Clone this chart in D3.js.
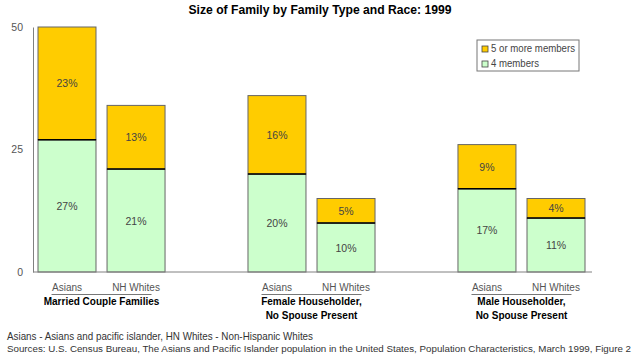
<!DOCTYPE html>
<html><head><meta charset="utf-8">
<script src="https://cdn.jsdelivr.net/npm/d3@7"></script>
<style>body{margin:0;background:#fff}svg{font-family:Arial,"Liberation Sans",sans-serif}</style>
</head><body><svg id="c" width="640" height="356"></svg>
<script>
const groups = ["Married Couple Families", "Female Householder,\nNo Spouse Present", "Male Householder,\nNo Spouse Present"];
const races = ["Asians", "NH Whites"];
const fourMembers = [[27, 21], [20, 10], [17, 11]];
const fiveOrMore = [[23, 13], [16, 5], [9, 4]];
const seriesNames = ["5 or more members", "4 members"];
const yTicks = [0, 25, 50];

const svg = d3.select("#c");
const y = d3.scaleLinear().domain([0, 50]).range([272, 27]);
const x0 = d3.scaleBand().domain(groups).range([38, 585]).paddingInner(0.395).paddingOuter(0);
const x1 = d3.scaleBand().domain(races).range([0, x0.bandwidth()]).paddingInner(0.16).paddingOuter(0);
const colors = {four: "#CCFFCC", five: "#FFCC00"};

svg.append("text").attr("x", 320).attr("y", 14).attr("text-anchor", "middle")
  .attr("font-weight", "bold").attr("font-size", 12)
  .attr("textLength", 263).attr("lengthAdjust", "spacingAndGlyphs")
  .text("Size of Family by Family Type and Race: 1999");

// bars
groups.forEach((g, gi) => {
  races.forEach((r, ri) => {
    const bx = x0(g) + x1(r), w = x1.bandwidth();
    const a = fourMembers[gi][ri], b = fiveOrMore[gi][ri];
    svg.append("rect").attr("x", bx).attr("y", y(a)).attr("width", w).attr("height", y(0) - y(a))
      .attr("fill", colors.four).attr("stroke", "#666").attr("stroke-width", 1);
    svg.append("rect").attr("x", bx).attr("y", y(a + b)).attr("width", w).attr("height", y(0) - y(b))
      .attr("fill", colors.five).attr("stroke", "#666").attr("stroke-width", 1);
    svg.append("line").attr("x1", bx).attr("x2", bx + w).attr("y1", y(a)).attr("y2", y(a))
      .attr("stroke", "#000").attr("stroke-width", 1.5);
    svg.append("text").attr("x", bx + w / 2).attr("y", (y(0) + y(a)) / 2 + 4).attr("text-anchor", "middle")
      .attr("font-size", 10.5).attr("fill", "#444").text(a + "%");
    svg.append("text").attr("x", bx + w / 2).attr("y", (y(a) + y(a + b)) / 2 + 4).attr("text-anchor", "middle")
      .attr("font-size", 10.5).attr("fill", "#444").text(b + "%");
    svg.append("text").attr("x", bx + w / 2).attr("y", 291).attr("text-anchor", "middle")
      .attr("font-size", 10).attr("fill", "#555").text(r);
  });
  const cx = x0(g) + x0.bandwidth() / 2;
  svg.append("line").attr("x1", cx - 50).attr("x2", cx + 50).attr("y1", 294.5).attr("y2", 294.5)
    .attr("stroke", "#777").attr("stroke-width", 1);
  g.split("\n").forEach((ln, li) => {
    svg.append("text").attr("x", cx).attr("y", 305 + li * 14).attr("text-anchor", "middle")
      .attr("font-size", 10).attr("font-weight", "bold").attr("fill", "#000").text(ln);
  });
});

// axes
const yAxis = d3.axisLeft(y).tickValues(yTicks).tickSize(0).tickPadding(10);
const ya = svg.append("g").attr("transform", "translate(33,0)").call(yAxis);
ya.select(".domain").attr("stroke", "#808080");
ya.selectAll("text").attr("font-size", 10.5).attr("fill", "#555").attr("font-family", "Arial, 'Liberation Sans', sans-serif");
svg.append("line").attr("x1", 33).attr("x2", 592).attr("y1", y(0)).attr("y2", y(0)).attr("stroke", "#808080");

// legend
const lg = svg.append("g").attr("transform", "translate(477,40)");
lg.append("rect").attr("width", 102).attr("height", 31).attr("fill", "#fff").attr("stroke", "#777");
seriesNames.forEach((s, i) => {
  lg.append("rect").attr("x", 5).attr("y", 6 + i * 15).attr("width", 6).attr("height", 6)
    .attr("fill", i === 0 ? colors.five : colors.four).attr("stroke", "#444").attr("stroke-width", 0.8);
  lg.append("text").attr("x", 14).attr("y", 12 + i * 15).attr("font-size", 10).attr("fill", "#444")
    .attr("textLength", i === 0 ? 84 : 48).attr("lengthAdjust", "spacingAndGlyphs").text(s);
});

// footnotes
svg.append("text").attr("x", 7).attr("y", 339.5).attr("font-size", 10.5).attr("fill", "#333")
  .attr("textLength", 306).attr("lengthAdjust", "spacingAndGlyphs")
  .text("Asians - Asians and pacific islander, HN Whites - Non-Hispanic Whites");
svg.append("text").attr("x", 7).attr("y", 352).attr("font-size", 9.2).attr("fill", "#333")
  .attr("textLength", 624).attr("lengthAdjust", "spacingAndGlyphs")
  .text("Sources: U.S. Census Bureau, The Asians and Pacific Islander population in the United States, Population Characteristics, March 1999, Figure 2");
</script></body></html>
